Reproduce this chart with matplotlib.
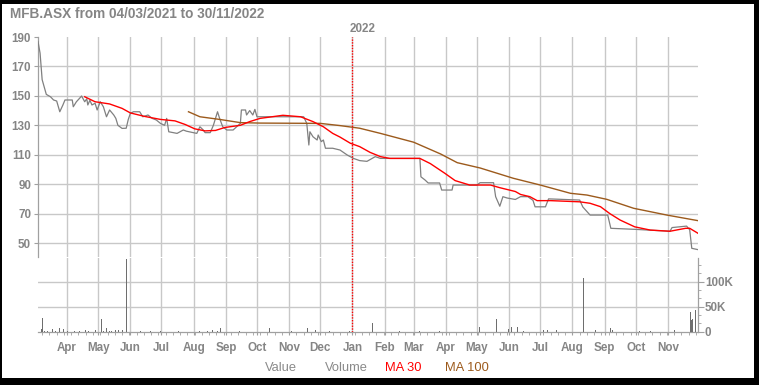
import matplotlib
matplotlib.use("Agg")
import matplotlib.pyplot as plt
import matplotlib.dates as mdates
from matplotlib.ticker import FixedLocator, MultipleLocator
from matplotlib.patches import Rectangle
import pandas as pd

plt.rcParams['font.family'] = ['Liberation Sans', 'DejaVu Sans']

# ---------------- data ----------------
value_dates = ["2021-03-04", "2021-03-05", "2021-03-06", "2021-03-08", "2021-03-09", "2021-03-12",
               "2021-03-16", "2021-03-19", "2021-03-22", "2021-03-25", "2021-03-28", "2021-03-30",
               "2021-04-06", "2021-04-07", "2021-04-10", "2021-04-13", "2021-04-15", "2021-04-18",
               "2021-04-20", "2021-04-21", "2021-04-23", "2021-04-25", "2021-04-28", "2021-04-30",
               "2021-05-03", "2021-05-06", "2021-05-09", "2021-05-12", "2021-05-16", "2021-05-18",
               "2021-05-20", "2021-05-24", "2021-05-28", "2021-05-30", "2021-06-01", "2021-06-04",
               "2021-06-10", "2021-06-13", "2021-06-18", "2021-06-22", "2021-06-26", "2021-06-30",
               "2021-07-04", "2021-07-06", "2021-07-08", "2021-07-16", "2021-07-22", "2021-07-25",
               "2021-08-04", "2021-08-07", "2021-08-10", "2021-08-12", "2021-08-17", "2021-08-20",
               "2021-08-24", "2021-08-26", "2021-08-29", "2021-09-02", "2021-09-08", "2021-09-15",
               "2021-09-16", "2021-09-20", "2021-09-21", "2021-09-24", "2021-09-27", "2021-09-29",
               "2021-10-01", "2021-11-15", "2021-11-18", "2021-11-20", "2021-11-21", "2021-11-24",
               "2021-11-28", "2021-11-29", "2021-12-02", "2021-12-04", "2021-12-06", "2021-12-13",
               "2021-12-20", "2021-12-27", "2022-01-02", "2022-01-08", "2022-01-15", "2022-01-23",
               "2022-01-28", "2022-03-07", "2022-03-08", "2022-03-12", "2022-03-15", "2022-03-26",
               "2022-03-28", "2022-04-07", "2022-04-08", "2022-05-01", "2022-05-04", "2022-05-17",
               "2022-05-19", "2022-05-23", "2022-05-26", "2022-05-30", "2022-06-07", "2022-06-12",
               "2022-06-19", "2022-06-24", "2022-06-26", "2022-07-06", "2022-07-09", "2022-08-08",
               "2022-08-11", "2022-08-18", "2022-09-04", "2022-09-07", "2022-09-30", "2022-11-03",
               "2022-11-05", "2022-11-19", "2022-11-22", "2022-11-24", "2022-11-30"]
value_prices = [187, 183, 179, 161, 158.5, 151,
                149.4, 147.2, 146.5, 139.2, 143.8, 147.2,
                147.2, 142.6, 146, 148.3, 149.9, 146,
                148, 143.8, 147, 143.8, 145, 140.4,
                146, 142.6, 135.8, 140.4, 137, 134.7,
                130, 127.9, 128, 134, 138.1, 139.2,
                139.2, 135.8, 137, 134.7, 133.6, 131.3,
                130, 134.7, 125.6, 124.5, 126.8, 126,
                124.5, 129, 127, 125, 125, 130,
                139.2, 134.7, 129, 126.8, 126.8, 131.3,
                140.4, 140.4, 137, 140, 137, 140.8,
                135.8, 135.8, 131.3, 116.6, 125.6, 122.2,
                120, 123.4, 118.9, 120, 114.4, 114.4,
                113.2, 109.8, 107.5, 106, 105.5, 108.7,
                107.5, 107.5, 95, 92.8, 90.8, 90.8,
                86, 86, 89.4, 89.4, 91, 91,
                81.5, 75, 81.5, 80.6, 79.6, 81.5,
                81.5, 79, 74.6, 74.6, 80, 79.2,
                74.5, 69, 69, 60, 59.3, 58,
                60.5, 61.5, 59, 46.4, 45.5]

ma30_dates = ["2021-04-18", "2021-04-28", "2021-05-12", "2021-05-24", "2021-06-01", "2021-06-15",
              "2021-06-30", "2021-07-14", "2021-07-24", "2021-08-02", "2021-08-12", "2021-08-22",
              "2021-08-31", "2021-09-15", "2021-09-24", "2021-10-04", "2021-10-26", "2021-11-12",
              "2021-11-24", "2021-12-04", "2021-12-13", "2021-12-20", "2021-12-30", "2022-01-08",
              "2022-01-18", "2022-01-28", "2022-02-06", "2022-03-07", "2022-03-17", "2022-03-31",
              "2022-04-10", "2022-04-24", "2022-05-14", "2022-05-23", "2022-06-07", "2022-06-12",
              "2022-06-21", "2022-06-28", "2022-07-11", "2022-08-08", "2022-08-18", "2022-08-28",
              "2022-09-06", "2022-09-16", "2022-09-30", "2022-10-15", "2022-11-03", "2022-11-18",
              "2022-11-22", "2022-11-30"]
ma30_values = [149.4, 146, 144.5, 141.5, 138.4, 136,
               134, 133, 130.5, 127.6, 126.2, 126.5,
               128.5, 130, 132.5, 134.7, 136.8, 135.8,
               132.5, 129, 124.5, 122, 117.8, 115.5,
               111.6, 108.7, 107.5, 107.5, 104, 97.4,
               92.4, 89.4, 89.4, 87.6, 85, 83,
               81.5, 78.8, 78.8, 78, 77, 74.7,
               70, 65.6, 61, 58.8, 58, 60,
               60, 56.6]

ma100_dates = ["2021-07-27", "2021-08-07", "2021-08-26", "2021-09-15", "2021-10-04", "2021-12-01",
               "2021-12-20", "2022-01-08", "2022-01-28", "2022-03-01", "2022-03-27", "2022-04-12",
               "2022-05-04", "2022-06-05", "2022-07-01", "2022-07-30", "2022-08-15", "2022-09-03",
               "2022-09-29", "2022-10-31", "2022-11-30"]
ma100_values = [139.2, 135.8, 134, 131.8, 131.5, 131.3,
                129.8, 128, 124.5, 118.5, 110.5, 104.6,
                101, 94, 89.4, 83.8, 82.6, 79.7,
                73.6, 69, 65.2]

volume_dates = ["2021-03-07", "2021-03-08", "2021-03-10", "2021-03-13", "2021-03-18", "2021-03-21",
                "2021-03-25", "2021-03-29", "2021-04-01", "2021-04-08", "2021-04-13", "2021-04-19",
                "2021-04-22", "2021-04-26", "2021-04-28", "2021-05-04", "2021-05-06", "2021-05-09",
                "2021-05-12", "2021-05-14", "2021-05-18", "2021-05-21", "2021-05-24", "2021-05-28",
                "2021-06-11", "2021-06-20", "2021-06-30", "2021-07-17", "2021-08-07", "2021-08-14",
                "2021-08-19", "2021-08-24", "2021-08-27", "2021-09-14", "2021-10-13", "2021-11-03",
                "2021-11-19", "2021-11-24", "2021-11-26", "2021-12-10", "2021-12-20", "2021-12-29",
                "2022-01-20", "2022-02-15", "2022-03-07", "2022-03-26", "2022-05-03", "2022-05-20",
                "2022-05-29", "2022-05-31", "2022-06-03", "2022-06-09", "2022-06-15", "2022-07-04",
                "2022-07-08", "2022-07-17", "2022-07-20", "2022-08-12", "2022-08-23", "2022-09-07",
                "2022-09-09", "2022-10-05", "2022-10-15", "2022-11-03", "2022-11-07", "2022-11-23",
                "2022-11-24", "2022-11-25", "2022-11-28"]
volume_values = [6000, 27000, 2000, 2000, 4500, 2000,
                 8000, 5000, 2000, 1000, 1000, 3000,
                 2000, 18000, 3000, 25000, 2000, 8000,
                 2000, 2000, 3000, 3000, 3000, 145000,
                 2000, 1000, 1000, 1000, 2000, 1000,
                 3000, 2000, 8000, 1000, 8000, 1000,
                 8000, 4000, 3000, 1000, 1000, 1000,
                 18000, 1000, 1000, 1000, 10000, 25000,
                 4000, 5000, 10000, 10000, 1000, 4000,
                 4000, 4000, 3000, 108000, 4000, 7000,
                 3000, 1000, 1000, 13000, 3000, 39000,
                 23000, 25000, 43000]

price_ticks = [50, 70, 90, 110, 130, 150, 170, 190]
volume_ticks = [0, 50000, 100000]
volume_tick_labels = ["0", "50K", "100K"]
title_text = "MFB.ASX from 04/03/2021 to 30/11/2022"
year_marker = "2022-01-01"
legend_items = [("Value", "#8a8a8a"), ("Volume", "#8a8a8a"), ("MA 30", "#ff0000"), ("MA 100", "#9c5a1c")]

# ---------------- figure ----------------
W, H = 759, 385
fig = plt.figure(figsize=(W / 100, H / 100), dpi=100, facecolor="black")
fig.patches.append(Rectangle((2 / W, 1 - 378 / H), (754 - 2) / W, (378 - 4) / H,
                             transform=fig.transFigure, facecolor="white", edgecolor="none", zorder=-10))

GRID = "#c8c8c8"
TXT = "#858585"
SPINE = "#a0a0a0"
tick_font = dict(fontsize=8.4, fontweight="bold", color=TXT)

x_left, x_right = 38, 698
ax = fig.add_axes([x_left / W, 1 - 257 / H, (x_right - x_left) / W, (257 - 37) / H])
axv = fig.add_axes([x_left / W, 1 - 331.7 / H, (x_right - x_left) / W, (331.7 - 258) / H], sharex=ax)
for a in (ax, axv):
    a.set_facecolor("none")

vd = pd.to_datetime(value_dates)
md30 = pd.to_datetime(ma30_dates)
md100 = pd.to_datetime(ma100_dates)
vold = pd.to_datetime(volume_dates)
ymark = pd.Timestamp(year_marker)

# price panel
for t in price_ticks[:-1]:
    ax.axhline(t, color=GRID, lw=1.0, zorder=1)
ax.plot(vd, value_prices, color="#808080", lw=0.9, zorder=3)
ax.plot(md100, ma100_values, color="#9c5a1c", lw=1.0, zorder=4)
ax.plot(md30, ma30_values, color="#ff0000", lw=1.0, zorder=5)
ax.axvline(ymark, color="#ff0000", lw=1.0, ls=(0, (1, 1)), zorder=6)

ax.set_ylim(40.5, 190)
ax.set_xlim(pd.Timestamp("2021-03-04"), pd.Timestamp("2022-11-30"))
ax.yaxis.set_major_locator(FixedLocator(price_ticks))
ax.set_yticklabels([str(t) for t in price_ticks], **tick_font)
ax.tick_params(axis="y", length=3, color=SPINE, pad=2)
ax.xaxis.set_major_locator(mdates.MonthLocator())
ax.grid(axis="x", which="major", color=GRID, lw=1.0, zorder=1)
for s in ("top", "right", "bottom"):
    ax.spines[s].set_visible(False)
ax.spines["left"].set_color(SPINE)
ax.spines["left"].set_linewidth(0.9)

ax.annotate("2022", xy=(ymark, 190), xytext=(-3, 2), textcoords="offset pixels",
            ha="left", va="bottom", annotation_clip=False, **tick_font)

# volume panel
for t in volume_ticks[1:]:
    axv.axhline(t, color=GRID, lw=1.0, zorder=1)
axv.bar(vold, volume_values, width=0.9, color="#6e6e6e", linewidth=0, zorder=3)
axv.axvline(ymark, color="#ff0000", lw=1.0, ls=(0, (1, 1)), zorder=6)
axv.set_ylim(0, 147000)
axv.yaxis.tick_right()
axv.yaxis.set_major_locator(FixedLocator(volume_ticks))
axv.set_yticklabels(volume_tick_labels, **tick_font)
axv.yaxis.set_minor_locator(MultipleLocator(50000 / 3))
axv.tick_params(axis="y", which="major", length=4, color=SPINE, pad=1)
axv.tick_params(axis="y", which="minor", length=2.5, color=SPINE)
axv.xaxis.set_major_locator(mdates.MonthLocator())
axv.xaxis.set_major_formatter(mdates.DateFormatter("%b"))
axv.xaxis.set_minor_locator(mdates.WeekdayLocator(byweekday=mdates.MO))
axv.tick_params(axis="x", which="major", length=2.5, color=SPINE, pad=5)
axv.tick_params(axis="x", which="minor", length=2.5, color=SPINE)
for lbl in axv.get_xticklabels():
    lbl.set_fontsize(8.4)
    lbl.set_fontweight("bold")
    lbl.set_color(TXT)
axv.grid(axis="x", which="major", color=GRID, lw=1.0, zorder=1)
axv.spines["left"].set_visible(False)
axv.spines["top"].set_visible(False)
axv.spines["right"].set_color(SPINE)
axv.spines["bottom"].set_color(SPINE)
axv.spines["right"].set_linewidth(0.9)
axv.spines["bottom"].set_linewidth(0.9)

# hide the shared x ticks on the price panel (after locators are set)
ax.tick_params(axis="x", which="both", length=0, labelbottom=False)

# title and legend
fig.text(10 / W, 1 - 14 / H, title_text, ha="left", va="center",
         fontsize=9.8, fontweight="bold", color=TXT)
legend_x = [265, 325, 385, 445]
for (label, col), lx in zip(legend_items, legend_x):
    fig.text(lx / W, 1 - 368 / H, label, ha="left", va="center", fontsize=9.3, color=col)

fig.savefig("out.png", dpi=100, facecolor=fig.get_facecolor())
